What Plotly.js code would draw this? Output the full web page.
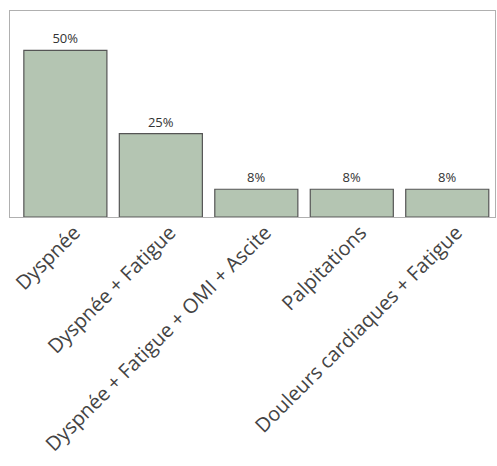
<!DOCTYPE html>
<html>
<head>
<meta charset="utf-8">
<script src="https://cdn.plot.ly/plotly-3.0.1.min.js"></script>
<style>html,body{margin:0;padding:0;background:#fff;}#chart{width:497px;height:466px;}</style>
</head>
<body>
<div id="chart"></div>
<script>
const categories = ["Dyspnée", "Dyspnée + Fatigue", "Dyspnée + Fatigue + OMI + Ascite", "Palpitations", "Douleurs cardiaques + Fatigue"];
const values = [50, 25, 8.33, 8.33, 8.33];
const valueLabels = ["50%", "25%", "8%", "8%", "8%"];

const trace = {
  type: "bar",
  x: categories,
  y: values,
  text: valueLabels,
  textposition: "outside",
  cliponaxis: false,
  textfont: {family: "Open Sans, Noto Sans, sans-serif", size: 13, color: "#333"},
  marker: {color: "#b4c5b2", line: {color: "#555", width: 1.2}},
  hoverinfo: "none"
};

const layout = {
  width: 497, height: 466,
  margin: {l: 10, r: 2, t: 11, b: 249},
  paper_bgcolor: "#fff", plot_bgcolor: "#fff",
  bargap: 0.13,
  showlegend: false,
  xaxis: {
    type: "category",
    range: [-0.58, 4.5],
    tickangle: -45,
    ticklabelshift: 9,
    ticklabelstandoff: -5,
    tickfont: {family: "Open Sans, Noto Sans, sans-serif", size: 20, color: "#444"},
    showline: true, mirror: true, linecolor: "#b0b0b0", linewidth: 1,
    ticks: "", showgrid: false, zeroline: false, fixedrange: true
  },
  yaxis: {
    range: [0, 61.8],
    showticklabels: false, ticks: "",
    showline: true, mirror: true, linecolor: "#b0b0b0", linewidth: 1,
    showgrid: false, zeroline: false, fixedrange: true
  }
};

Plotly.newPlot("chart", [trace], layout, {displayModeBar: false, staticPlot: true});
</script>
</body>
</html>
